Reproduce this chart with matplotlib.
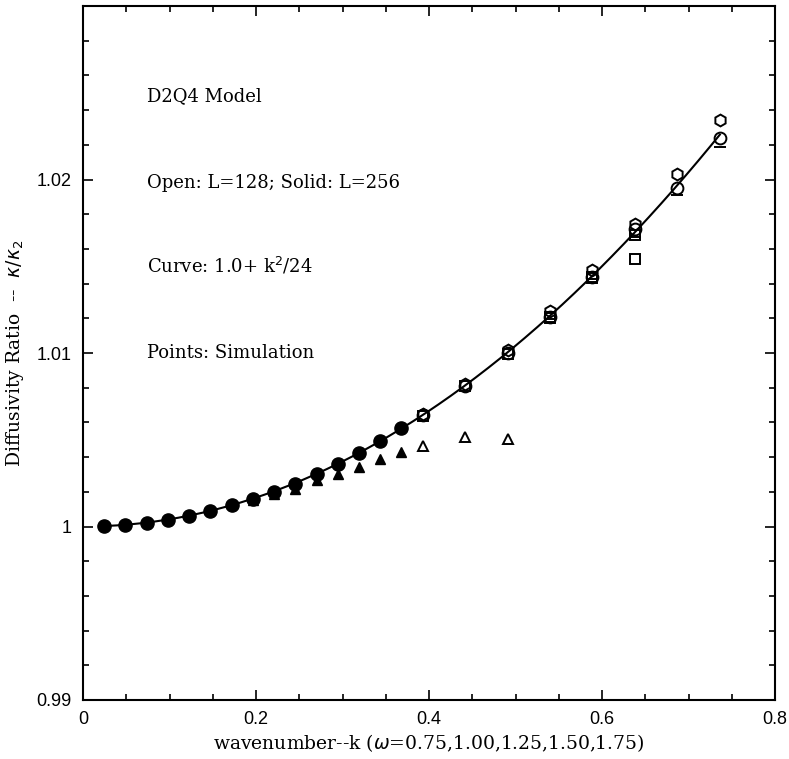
import matplotlib
matplotlib.use("Agg")
import matplotlib.pyplot as plt
from matplotlib.ticker import MultipleLocator, FixedLocator
import numpy as np

# solid points: L=256, k = 2*pi*n/256
k_solid = [0.0245, 0.0491, 0.0736, 0.0982, 0.1227, 0.1473, 0.1718, 0.1963,
           0.2209, 0.2454, 0.2700, 0.2945, 0.3191, 0.3436, 0.3682]
solid_circle = [1.00003, 1.00010, 1.00023, 1.00040, 1.00063, 1.00090, 1.00123, 1.00160,
                1.00200, 1.00245, 1.00302, 1.00360, 1.00424, 1.00492, 1.00565]
k_solid_tri = [0.1963, 0.2209, 0.2454, 0.2700, 0.2945, 0.3191, 0.3436, 0.3682]
solid_tri = [1.00150, 1.00190, 1.00219, 1.00268, 1.00303, 1.00345, 1.00389, 1.00431]

# open points: L=128, k = 2*pi*n/128
k_open = [0.3927, 0.4418, 0.4909, 0.5400, 0.5890, 0.6381, 0.6872, 0.7363]
open_hex = [1.00650, 1.00822, 1.01015, 1.01240, 1.01480, 1.01742, 1.02032, 1.02343]
open_circle = [1.00640, 1.00812, 1.01000, 1.01210, 1.01440, 1.01715, 1.01949, 1.02237]
k_open_sq = [0.3927, 0.4418, 0.4909, 0.5400, 0.5890, 0.6381]
open_sq = [1.00638, 1.00808, 1.00995, 1.01205, 1.01436, 1.01680]
k_open_sq2 = [0.5400, 0.5890, 0.6381]
open_sq2 = [1.01200, 1.01430, 1.01542]
k_open_dash = [0.5400, 0.5890, 0.6381, 0.6872, 0.7363]
open_dash = [1.01195, 1.01425, 1.01670, 1.01910, 1.02190]
k_open_tri = [0.3927, 0.4418, 0.4909]
open_tri = [1.00464, 1.00514, 1.00503]

notes = ["D2Q4 Model", "Open: L=128; Solid: L=256",
         "Curve: 1.0+ k$^2$/24", "Points: Simulation"]
note_y = [1.0248, 1.0198, 1.0150, 1.0100]

fig = plt.figure(figsize=(7.89, 7.59), dpi=100)
ax = fig.add_axes([83 / 789, 59 / 759, 692 / 789, 694 / 759])

# theory curve from the caption
kc = np.linspace(0.0245, 0.7363, 200)
ax.plot(kc, 1.0 + kc ** 2 / 24, 'k-', lw=1.5, zorder=2)

ax.plot(k_solid, solid_circle, 'o', color='k', ms=9.5, zorder=3)
ax.plot(k_solid_tri, solid_tri, '^', color='k', ms=6.5, zorder=3)

op = dict(mfc='none', mec='k', mew=1.4, ls='none', zorder=3)
ax.plot(k_open, open_hex, 'h', ms=8.5, **op)
ax.plot(k_open, open_circle, 'o', ms=8.5, **op)
ax.plot(k_open_sq, open_sq, 's', ms=6.5, **op)
ax.plot(k_open_sq2, open_sq2, 's', ms=6.5, **op)
ax.plot(k_open_dash, open_dash, '_', ms=9, **op)
ax.plot(k_open_tri, open_tri, '^', ms=6.5, **op)

for txt, yy in zip(notes, note_y):
    ax.text(0.074, yy, txt, fontsize=13, family='DejaVu Serif', va='center')

ax.set_xlim(0, 0.8)
ax.set_ylim(0.99, 1.03)
ax.set_xticks([0, 0.2, 0.4, 0.6, 0.8])
ax.set_xticklabels(["0", "0.2", "0.4", "0.6", "0.8"])
ax.yaxis.set_major_locator(FixedLocator([0.99, 1.0, 1.01, 1.02, 1.03]))
ax.set_yticklabels(["0.99", "1", "1.01", "1.02", ""])
ax.xaxis.set_minor_locator(MultipleLocator(0.05))
ax.yaxis.set_minor_locator(MultipleLocator(0.002))
ax.tick_params(which='both', direction='in', top=True, right=True, width=1.2)
ax.tick_params(which='major', length=7, labelsize=13, pad=8)
ax.tick_params(which='minor', length=4)
for lab in ax.get_xticklabels() + ax.get_yticklabels():
    lab.set_family('Liberation Sans')
for s in ax.spines.values():
    s.set_linewidth(1.5)

ax.set_xlabel(r"wavenumber--k ($\omega$=0.75,1.00,1.25,1.50,1.75)",
              family='DejaVu Serif', fontsize=13.5, labelpad=3)
ax.set_ylabel(r"Diffusivity Ratio  --  $\kappa/\kappa_2$",
              family='DejaVu Serif', fontsize=13.5, labelpad=8)

fig.savefig("out.png", dpi=100)
